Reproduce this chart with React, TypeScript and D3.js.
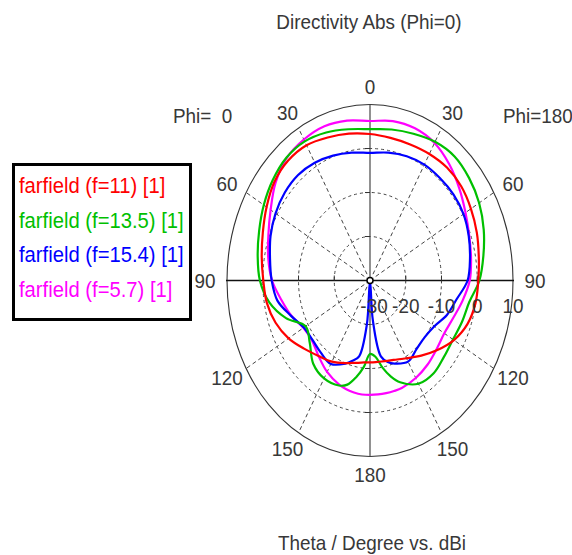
import React, { useEffect, useRef } from "react";
import * as d3 from "d3";

// theta grid (deg), same for both halves of the cut
const thetas = [0, 10, 20, 30, 40, 50, 60, 70, 80, 90, 100, 110, 120, 130, 140, 150, 160, 165, 170, 175, 180];

// directivity in dBi, left half = Phi 0, right half = Phi 180
const redPhi0 = [3.3, 3.9, 4.6, 5.5, 5.6, 4.9, 3.4, 1.9, 0.75, -0.15, -0.7, -1.9, -3.7, -5.9, -7.6, -8.7, -10.0, -10.6, -11.0, -11.3, -11.4];
const redPhi180 = [3.3, 2.9, 2.9, 3.2, 3.5, 3.3, 2.6, 1.8, 0.9, 0.3, -0.05, -1.0, -2.9, -5.4, -7.7, -9.6, -10.8, -11.1, -11.3, -11.4, -11.4];
const greenPhi0 = [4.4, 4.9, 5.8, 6.5, 6.4, 5.5, 4.3, 3.0, 1.9, 0.8, -1.4, -5.0, -9.2, -8.0, -5.3, -4.3, -4.6, -5.5, -7.7, -10.3, -13.3];
const greenPhi180 = [4.4, 4.85, 5.5, 6.4, 6.8, 6.2, 5.25, 3.85, 2.2, 0.6, -1.8, -2.6, -3.2, -3.0, -2.4, -2.9, -5.4, -7.4, -9.9, -12.6, -13.3];
const bluePhi0 = [-1.0, -0.5, 0.2, 0.9, 1.3, 1.1, 0.5, -0.4, -1.6, -2.5, -3.7, -6.5, -8.6, -9.0, -8.6, -8.1, -9.9, -11.1, -12.5, -20, -30];
const bluePhi180 = [-1.0, -0.5, 0.05, 0.4, 0.4, 0.45, 0.2, -0.6, -1.6, -2.7, -5.4, -7.1, -9.2, -10.0, -9.7, -8.7, -9.9, -10.8, -12.5, -21, -30];
const magentaPhi0 = [6.25, 6.9, 7.3, 7.0, 6.3, 4.5, 2.1, 0.25, -1.1, -2.6, -4.8, -6.6, -8.5, -8.8, -7.6, -6.0, -4.8, -4.4, -4.15, -4.0, -4.0];
const magentaPhi180 = [6.25, 6.8, 6.8, 6.1, 4.5, 2.6, 0.85, -0.45, -1.3, -2.1, -3.7, -5.2, -6.0, -5.7, -5.0, -4.4, -4.0, -4.0, -4.0, -4.0, -4.0];

const seriesNames = ["farfield (f=11) [1]", "farfield (f=13.5) [1]", "farfield (f=15.4) [1]", "farfield (f=5.7) [1]"];
const seriesColors = ["#ff0000", "#00c000", "#0000ff", "#ff00ff"];
const seriesPhi0 = [redPhi0, greenPhi0, bluePhi0, magentaPhi0];
const seriesPhi180 = [redPhi180, greenPhi180, bluePhi180, magentaPhi180];

const angleTicks = [0, 30, 60, 90, 120, 150, 180];
const dbTicks = [-30, -20, -10, 0, 10];

const App = () => {
    const svgRef = useRef(null);

    useEffect(() => {
        const cx = 370;
        const cy = 280.5;
        const rx = 143;
        const ry = 176;
        const font = "'Liberation Sans', Arial, sans-serif";
        const ink = "#383838";

        const svg = d3.select(svgRef.current);
        svg.selectAll("*").remove();

        const r = d3.scaleLinear().domain([-30, 10]).range([0, 1]);
        const rad = (t) => (t * Math.PI) / 180;
        // side -1 = Phi 0 (left), +1 = Phi 180 (right)
        const px = (t, db, side) => cx + side * rx * r(db) * Math.sin(rad(t));
        const py = (t, db) => cy - ry * r(db) * Math.cos(rad(t));

        const label = (x, y, txt, anchor = "middle", color = ink, size = 21, sx = 0.9) =>
            svg
                .append("text")
                .attr("transform", `translate(${x},${y}) scale(${sx},1)`)
                .attr("text-anchor", anchor)
                .attr("font-family", font)
                .attr("font-size", size)
                .attr("fill", color)
                .style("white-space", "pre")
                .text(txt);

        // grid
        const grid = svg.append("g");
        dbTicks.slice(1, -1).forEach((db) => {
            grid.append("ellipse")
                .attr("cx", cx)
                .attr("cy", cy)
                .attr("rx", rx * r(db))
                .attr("ry", ry * r(db))
                .attr("fill", "none")
                .attr("stroke", "#444")
                .attr("stroke-width", 1)
                .attr("stroke-dasharray", "3,3");
        });
        [30, 60, 120, 150].forEach((t) => {
            [-1, 1].forEach((side) => {
                grid.append("line")
                    .attr("x1", cx)
                    .attr("y1", cy)
                    .attr("x2", px(t, 10, side))
                    .attr("y2", py(t, 10))
                    .attr("stroke", "#444")
                    .attr("stroke-width", 1)
                    .attr("stroke-dasharray", "4,3");
            });
        });
        grid.append("ellipse")
            .attr("cx", cx)
            .attr("cy", cy)
            .attr("rx", rx)
            .attr("ry", ry)
            .attr("fill", "none")
            .attr("stroke", "#333")
            .attr("stroke-width", 1.1);
        grid.append("line")
            .attr("x1", cx)
            .attr("y1", cy - ry)
            .attr("x2", cx)
            .attr("y2", cy + ry)
            .attr("stroke", "#555")
            .attr("stroke-width", 1.3);
        grid.append("line")
            .attr("x1", cx - rx - 1)
            .attr("y1", cy)
            .attr("x2", cx + rx + 1)
            .attr("y2", cy)
            .attr("stroke", "#111")
            .attr("stroke-width", 1.6);
        dbTicks.slice(1, -1).forEach((db) => {
            [-1, 1].forEach((s) => {
                grid.append("line")
                    .attr("x1", cx + s * rx * r(db))
                    .attr("x2", cx + s * rx * r(db))
                    .attr("y1", cy - 5)
                    .attr("y2", cy)
                    .attr("stroke", "#333");
                grid.append("line")
                    .attr("x1", cx - 5)
                    .attr("x2", cx)
                    .attr("y1", cy + s * ry * r(db))
                    .attr("y2", cy + s * ry * r(db))
                    .attr("stroke", "#333");
            });
        });

        // curves, red drawn last so it sits on top
        const line = d3.line().curve(d3.curveCatmullRomClosed.alpha(0.5));
        d3.range(seriesNames.length)
            .reverse()
            .forEach((i) => {
                const left = thetas.map((t, j) => [px(t, seriesPhi0[i][j], -1), py(t, seriesPhi0[i][j])]);
                const right = thetas
                    .map((t, j) => [px(t, seriesPhi180[i][j], 1), py(t, seriesPhi180[i][j])])
                    .slice(1, -1)
                    .reverse();
                svg.append("path")
                    .attr("d", line(left.concat(right)))
                    .attr("fill", "none")
                    .attr("stroke", seriesColors[i])
                    .attr("stroke-width", 2.2)
                    .attr("stroke-linejoin", "round");
            });

        svg.append("circle")
            .attr("cx", cx)
            .attr("cy", cy)
            .attr("r", 3)
            .attr("fill", "white")
            .attr("stroke", "#000")
            .attr("stroke-width", 1.5);

        // angle labels
        angleTicks.forEach((t) => {
            const sides = t === 0 || t === 180 ? [1] : [-1, 1];
            sides.forEach((side) => {
                const x = cx + side * (rx + 22) * Math.sin(rad(t));
                const y = cy - (ry + 18) * Math.cos(rad(t)) + 7.5;
                label(x, y, String(t));
            });
        });

        // radial labels
        dbTicks.forEach((db) => {
            label(cx + rx * r(db) + (db === -30 ? 4 : 0), 313, String(db));
        });

        label(173, 123, "Phi=  0", "start");
        label(503, 123, "Phi=180", "start");
        label(369, 29, "Directivity Abs (Phi=0)");
        label(372, 550, "Theta / Degree vs. dBi");

        // legend
        svg.append("rect")
            .attr("x", 13.5)
            .attr("y", 164.5)
            .attr("width", 177)
            .attr("height", 155)
            .attr("fill", "white")
            .attr("stroke", "#000")
            .attr("stroke-width", 3);
        seriesNames.forEach((name, i) => {
            label(19, 193 + i * 34.7, name, "start", seriesColors[i], 22, 0.92);
        });
    }, []);

    return (
        <svg
            ref={svgRef}
            width={572}
            height={555}
            style={{ position: "absolute", left: 0, top: 0, background: "white" }}
        ></svg>
    );
};

export default App;
